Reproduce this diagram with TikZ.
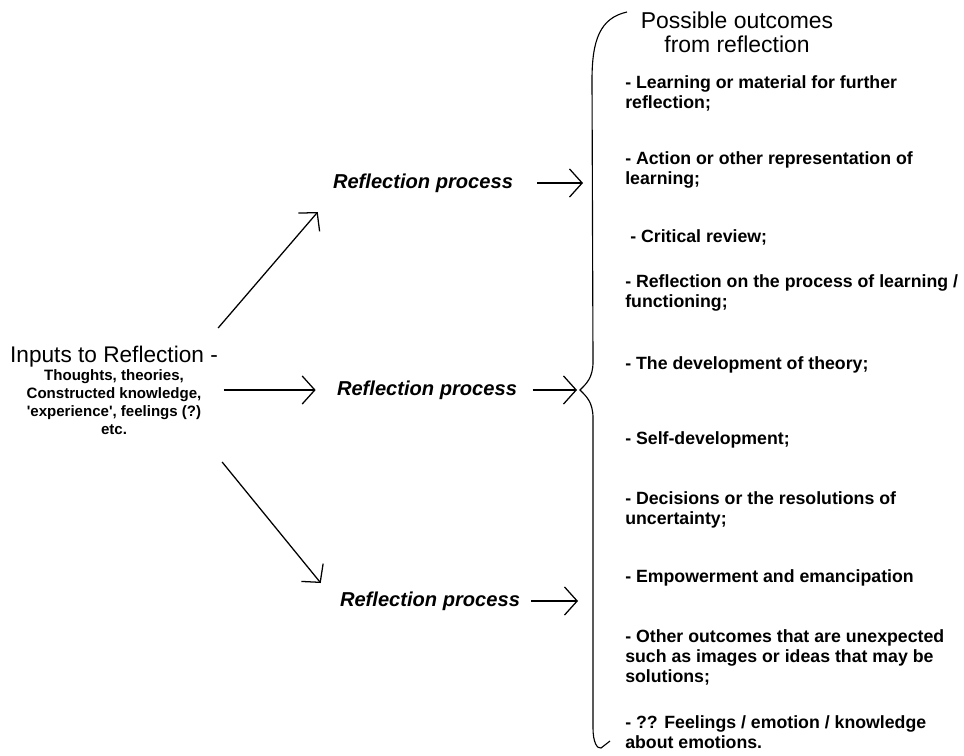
\documentclass[tikz,border=0pt]{standalone}
\usepackage{fontspec}
\setmainfont{Liberation Sans}
\usetikzlibrary{arrows.meta}
\tikzstyle{inputs} = [align=center, inner sep=0pt, font=\bfseries\fontsize{10.7}{12.8}\selectfont]
\tikzstyle{head} = [align=center, inner sep=0pt, font=\fontsize{16.3}{17}\selectfont]
\tikzstyle{process} = [inner sep=0pt, font=\bfseries\itshape\fontsize{14.3}{17}\selectfont]
\tikzstyle{outcome} = [anchor=west, align=left, inner sep=0pt, font=\bfseries\fontsize{12.6}{14.2}\selectfont]
\tikzstyle{arrow} = [line width=0.9pt, -{Straight Barb[length=9pt,width=20pt]}]
\tikzstyle{brace} = [line width=0.8pt]

\begin{document}
\begin{tikzpicture}[x=0.025cm, y=-0.025cm]
\useasboundingbox (0,0) rectangle (964,755);

%Inputs
\node (inputs) [inputs] at (114,390) {{\mdseries\fontsize{16.1}{18}\selectfont Inputs to Reflection -}\\
Thoughts, theories,\\
Constructed knowledge,\\
\textquotesingle experience\textquotesingle, feelings (?)\\
etc.};

%Processes
\node (proc1) [process] at (423,183) {Reflection process};
\node (proc2) [process] at (427,390) {Reflection process};
\node (proc3) [process] at (430,601) {Reflection process};

%Outcomes
\node (outcomes_head) [head] at (737,32) {Possible outcomes\\from reflection};
\node (out1) [outcome] at (625,93) {- Learning or material for further\\reflection;};
\node (out2) [outcome] at (625,170) {- Action or other representation of\\learning;};
\node (out3) [outcome] at (630,237) {- Critical review;};
\node (out4) [outcome] at (625,293) {- Reflection on the process of learning /\\functioning;};
\node (out5) [outcome] at (625,365) {- The development of theory;};
\node (out6) [outcome] at (625,440) {- Self-development;};
\node (out7) [outcome] at (625,510) {- Decisions or the resolutions of\\uncertainty;};
\node (out8) [outcome] at (625,578) {- Empowerment and emancipation};
\node (out9) [outcome] at (625,657) {- Other outcomes that are unexpected\\such as images or ideas that may be\\solutions;};
\node (out10) [outcome] at (625,732) {- ?? Feelings / emotion / knowledge\\about emotions.};

%Brace
\draw [brace] (627,12) .. controls (600,18) and (592,40) .. (592,80) -- (593,362) .. controls (593,378) and (586,384) .. (580,390) .. controls (586,396) and (593,402) .. (593,418) -- (593,728) .. controls (593,742) and (597,749) .. (601,748) -- (610,741);
\coordinate (brace1) at (583,183);
\coordinate (brace2) at (577,390);
\coordinate (brace3) at (578,601);

%Arrows
\draw [arrow] ([shift={(0,-62)}]inputs.east) -- ([shift={(-15,29)}]proc1.west);
\draw [arrow] ([xshift=4]inputs.east) -- ([xshift=-15]proc2.west);
\draw [arrow] ([shift={(4,72)}]inputs.east) -- ([shift={(-19,-18)}]proc3.west);
\draw [arrow] ([xshift=17]proc1.east) -- (brace1);
\draw [arrow] ([xshift=11]proc2.east) -- (brace2);
\draw [arrow] ([xshift=8]proc3.east) -- (brace3);

\end{tikzpicture}
\end{document}
